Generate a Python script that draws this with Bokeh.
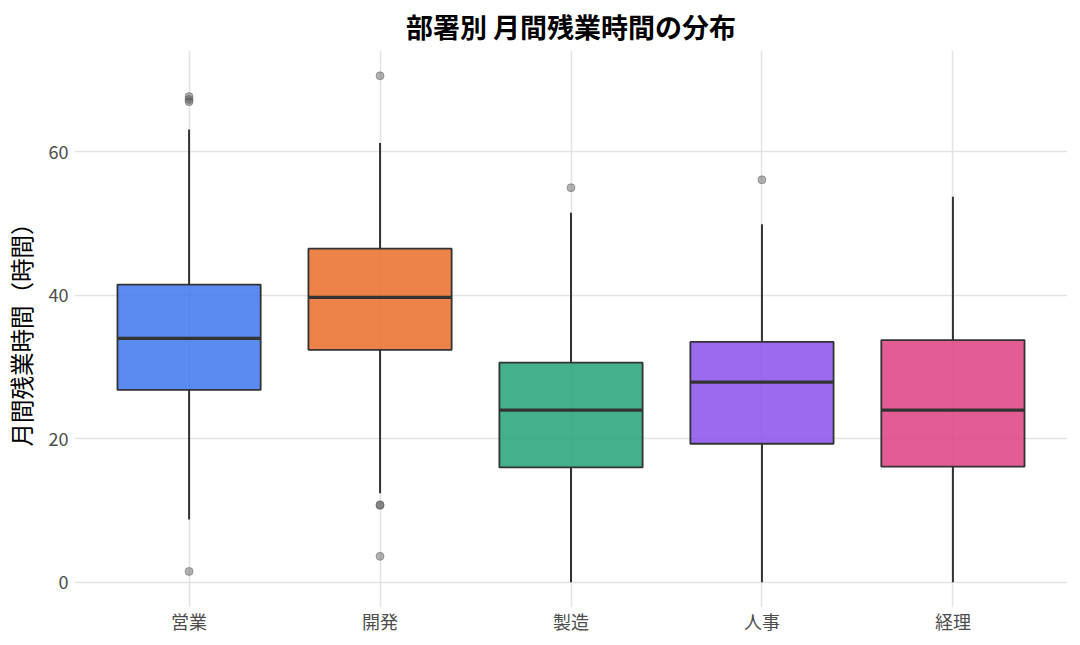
from bokeh.plotting import figure
from bokeh.models import FactorRange, Range1d, FixedTicker, ColumnDataSource
from bokeh.transform import dodge
from bokeh.embed import file_html
from bokeh.resources import INLINE

cats = ["営業", "開発", "製造", "人事", "経理"]
q1 = [26.8, 32.4, 16.0, 19.3, 16.1]
med = [34.0, 39.7, 24.0, 27.9, 24.0]
q3 = [41.5, 46.5, 30.6, 33.5, 33.75]
lower = [8.75, 12.4, 0.0, 0.0, 0.0]
upper = [63.1, 61.25, 51.5, 49.9, 53.75]
colors = ["#3E75ED", "#EB6D2A", "#24A278", "#8A50EC", "#DF4081"]

out_cat = ["営業", "営業", "営業", "営業", "開発", "開発", "開発", "開発", "製造", "人事"]
out_val = [67.7, 67.3, 67.0, 1.5, 70.6, 10.8, 10.7, 3.6, 55.0, 56.1]

y_ticks = [0, 20, 40, 60]
title_text = "部署別 月間残業時間の分布"

FONT = "Noto Sans CJK JP"

xr = FactorRange(factors=cats, range_padding=0.1, range_padding_units="absolute")
p = figure(frame_width=993, frame_height=557, output_backend="svg", toolbar_location=None,
           x_range=xr, y_range=Range1d(-3.53, 74.13),
           title=title_text,
           min_border_left=68, min_border_right=3, min_border_top=41, min_border_bottom=26)

src = ColumnDataSource(dict(cat=cats, q1=q1, med=med, q3=q3, lo=lower, hi=upper, color=colors))

# whiskers
p.segment(x0="cat", y0="q3", x1="cat", y1="hi", source=src, line_color="#333333", line_width=2)
p.segment(x0="cat", y0="lo", x1="cat", y1="q1", source=src, line_color="#333333", line_width=2)
# boxes
p.vbar(x="cat", bottom="q1", top="q3", width=0.75, source=src, fill_color="color", fill_alpha=0.85,
       line_color="#333333", line_width=1.8)
# median
p.segment(x0=dodge("cat", -0.375, range=xr), y0="med", x1=dodge("cat", 0.375, range=xr), y1="med",
          source=src, line_color="#333333", line_width=3.2)
# outliers
p.scatter(x=out_cat, y=out_val, size=8, fill_color="#555555", fill_alpha=0.45,
          line_color="#555555", line_alpha=0.45)

p.title.text_font = FONT
p.title.text_font_size = "27px"
p.title.text_font_style = "bold"
p.title.align = "center"
p.title.text_color = "#000000"
p.title.standoff = 9

p.yaxis.ticker = FixedTicker(ticks=y_ticks)
p.yaxis.axis_label = "月間残業時間（時間）"
p.yaxis.axis_label_text_font = FONT
p.yaxis.axis_label_text_font_size = "23.5px"
p.yaxis.axis_label_text_font_style = "normal"
p.yaxis.axis_label_text_color = "#000000"
p.yaxis.axis_label_standoff = 8

for ax in (p.xaxis, p.yaxis):
    ax.major_label_text_font = FONT
    ax.major_label_text_font_size = "18px"
    ax.major_label_text_color = "#4d4d4d"
    ax.axis_line_color = None
    ax.major_tick_line_color = None
    ax.minor_tick_line_color = None
    ax.major_tick_out = 0
    ax.major_tick_in = 0
    ax.minor_tick_out = 0
    ax.minor_tick_in = 0
    ax.major_label_standoff = 6

p.xaxis.major_label_standoff = 0
p.xaxis.major_label_text_line_height = 0.9

p.xgrid.grid_line_color = "#e3e3e3"
p.ygrid.grid_line_color = "#e3e3e3"
p.xgrid.grid_line_width = 1.5
p.ygrid.grid_line_width = 1.5
p.outline_line_color = None
p.background_fill_color = "white"
p.border_fill_color = "white"

open("out.html", "w").write(file_html(p, INLINE))
